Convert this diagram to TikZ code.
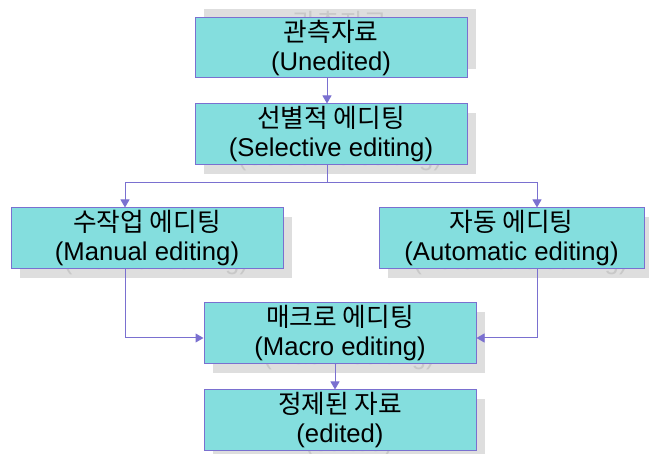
\documentclass[tikz,border=0pt]{standalone}
\usepackage{fontspec}
\setmainfont{Liberation Sans}
\newfontfamily\kr{Noto Sans CJK KR}
\usetikzlibrary{arrows.meta}

\definecolor{boxfill}{RGB}{132,222,222}
\definecolor{boxline}{RGB}{122,112,208}
\definecolor{shadefill}{RGB}{222,222,222}
\definecolor{shadetext}{RGB}{200,200,200}

\begin{document}
\begin{tikzpicture}
    [x=1pt,y=-1pt,
     every node/.style={rectangle,align=center,inner sep=0pt,
       font=\fontsize{25.7}{29}\selectfont},
     box/.style={draw=boxline,line width=1pt,fill=boxfill,text=black},
     shade/.style={fill=shadefill,text=shadetext},
     arr/.style={draw=boxline,line width=1pt,-{Triangle[width=9pt,length=8pt]}}]
    \useasboundingbox (0,0) rectangle (649,454);
    % shadows
    \node[shade,minimum width=272pt,minimum height=60pt] (s1) at (340,39) {{\kr 관측자료}\\(Unedited)};
    \node[shade,minimum width=272pt,minimum height=61pt] (s2) at (340,143.5) {{\kr 선별적 에디팅}\\(Selective editing)};
    \node[shade,minimum width=272pt,minimum height=61pt] (s3) at (156,247.5) {{\kr 수작업 에디팅}\\(Manual editing)};
    \node[shade,minimum width=265pt,minimum height=61pt] (s4) at (520.5,247.5) {{\kr 자동 에디팅}\\(Automatic editing)};
    \node[shade,minimum width=272pt,minimum height=61pt] (s5) at (349,342.5) {{\kr 매크로 에디팅}\\(Macro editing)};
    \node[shade,minimum width=272pt,minimum height=61pt] (s6) at (349,429.5) {{\kr 정제된 자료}\\(edited)};
    % boxes
    \node[box,minimum width=272pt,minimum height=60pt] (n1) at (331,48) {{\kr 관측자료}\\(Unedited)};
    \node[box,minimum width=272pt,minimum height=61pt] (n2) at (331,134.5) {{\kr 선별적 에디팅}\\(Selective editing)};
    \node[box,minimum width=272pt,minimum height=61pt] (n3) at (147,238.5) {{\kr 수작업 에디팅}\\(Manual editing)};
    \node[box,minimum width=265pt,minimum height=61pt] (n4) at (511.5,238.5) {{\kr 자동 에디팅}\\(Automatic editing)};
    \node[box,minimum width=272pt,minimum height=61pt] (n5) at (340,333.5) {{\kr 매크로 에디팅}\\(Macro editing)};
    \node[box,minimum width=272pt,minimum height=61pt] (n6) at (340,420.5) {{\kr 정제된 자료}\\(edited)};
    % connectors
    \draw[arr] ([xshift=-4pt]n1.south) -- ([xshift=-4pt]n2.north);
    \draw[arr] ([xshift=-4pt]n2.south) -- ++(0,17) -| ([xshift=-22pt]n3.north);
    \draw[arr] ([xshift=-4pt]n2.south) -- ++(0,17) -| ([xshift=25.5pt]n4.north);
    \draw[arr] ([xshift=-22pt]n3.south) |- ([yshift=-4.5pt]n5.west);
    \draw[arr] ([xshift=25.5pt]n4.south) |- ([yshift=-4.5pt]n5.east);
    \draw[arr] ([xshift=-5pt]n5.south) -- ([xshift=-5pt]n6.north);
\end{tikzpicture}
\end{document}
